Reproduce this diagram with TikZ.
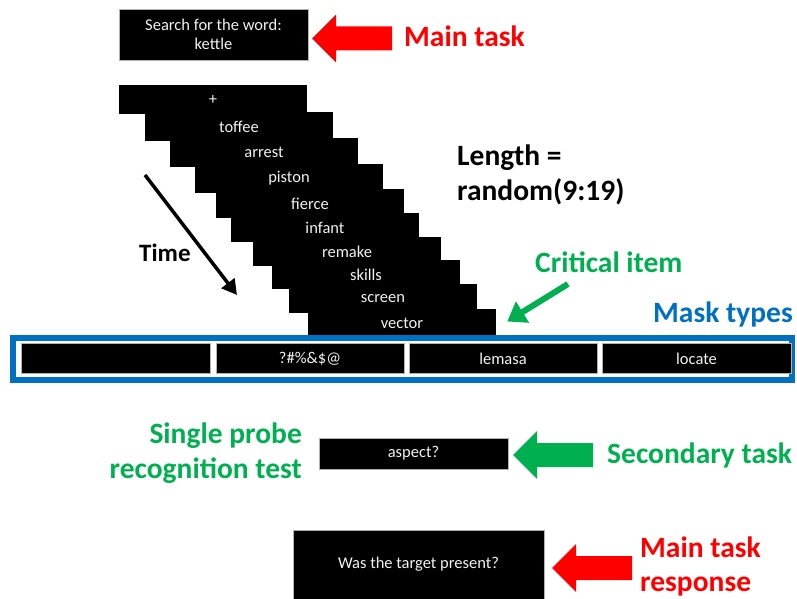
\documentclass[tikz,border=0pt]{standalone}
\usepackage{fontspec}
\setmainfont{Carlito}
\usetikzlibrary{arrows.meta}
\definecolor{taskred}{RGB}{255,0,0}
\definecolor{taskgreen}{RGB}{0,176,80}
\definecolor{maskblue}{RGB}{0,112,192}
\newcommand{\lblfont}{\fontsize{29.5}{35}\selectfont\bfseries}
\newcommand{\scrfont}{\fontsize{16.5}{19}\selectfont}
\begin{document}
\begin{tikzpicture}[x=1pt,y=-1pt,
  screen/.style={fill=black,draw=gray!60,line width=.8pt,text=white!95!black,font=\scrfont,inner sep=0pt,align=center},
  card/.style={fill=black,text=white!95!black,font=\scrfont,minimum width=188pt,minimum height=29pt,inner sep=0pt},
  lbl/.style={font=\lblfont,inner sep=0pt},
  blockarrow/.pic={\fill (0,0) -- (24,-24) -- (24,-12) -- (80,-12) -- (80,12) -- (24,12) -- (24,24) -- cycle;}]
\useasboundingbox (0,0) rectangle (797,599);
% main task
\node[screen,minimum width=189pt,minimum height=51pt] (search) at (213.5,34.5) {Search for the word:\\kettle};
\pic[taskred] at (312,38.5) {blockarrow};
\node[lbl,text=taskred,anchor=base west] (main) at (404,47) {Main task};
% word stream
\foreach \x/\y/\w [count=\i] in {119/85/+,145/112/toffee,170/138/arrest,195/164/piston,216/189/fierce,231/213/infant,253/237/remake,272/260/skills,289/284/screen,308/309/vector}
  \node[card] (c\i) at ({\x+94},{\y+14.5}) {\w};
\coordinate (t0) at (145,175);\coordinate (t1) at (237,295);
\draw[line width=3.5pt,-{Triangle[length=15pt,width=16pt]}] (t0) -- (t1);
\node[lbl,font=\fontsize{25}{30}\selectfont\bfseries,anchor=base west] (time) at (139,261) {Time};
\node[lbl,anchor=base west] (len1) at (457,165) {Length =};\node[lbl,anchor=base west] (len2) at (457,200) {random(9:19)};
\node[lbl,text=taskgreen,anchor=base west] (crit) at (535,272) {Critical item};
\coordinate (cs) at (568,284);
\draw[taskgreen,line width=6pt,-{Triangle[length=18pt,width=24pt]}] (cs) -- ([shift={(11,-2)}]c10.east);
% masks
\node[draw=maskblue,line width=6pt,minimum width=779pt,minimum height=42pt,inner sep=0pt] (frame) at (402.5,359) {};
\node[screen,minimum width=189pt,minimum height=30pt] (m1) at (115.5,358.5) {};\node[screen,minimum width=188pt,minimum height=30pt] (m2) at (310,358.5) {?\#\%\&\$@};
\node[screen,minimum width=188pt,minimum height=30pt] (m3) at (503,358.5) {lemasa};\node[screen,minimum width=189pt,minimum height=30pt] (m4) at (696.5,358.5) {locate};
\node[lbl,text=maskblue,anchor=base west] (masks) at (653,322) {Mask types};
% secondary task
\node[lbl,text=taskgreen,anchor=base east] (sp1) at (302,443) {Single probe};\node[lbl,text=taskgreen,anchor=base east] (sp2) at (302,478) {recognition test};
\node[screen,minimum width=189pt,minimum height=31pt] (probe) at (413.5,453.5) {aspect?};
\pic[taskgreen] at (513,455) {blockarrow};
\node[lbl,text=taskgreen,anchor=base west] (sec) at (607,463) {Secondary task};
% response
\node[screen,minimum width=251pt,minimum height=69pt] (resp) at (418.5,564.5) {Was the target present?};
\pic[taskred] at (552,568) {blockarrow};
\node[lbl,text=taskred,anchor=base west] (mr1) at (640,557) {Main task};\node[lbl,text=taskred,anchor=base west] (mr2) at (640,591) {response};
\end{tikzpicture}
\end{document}
